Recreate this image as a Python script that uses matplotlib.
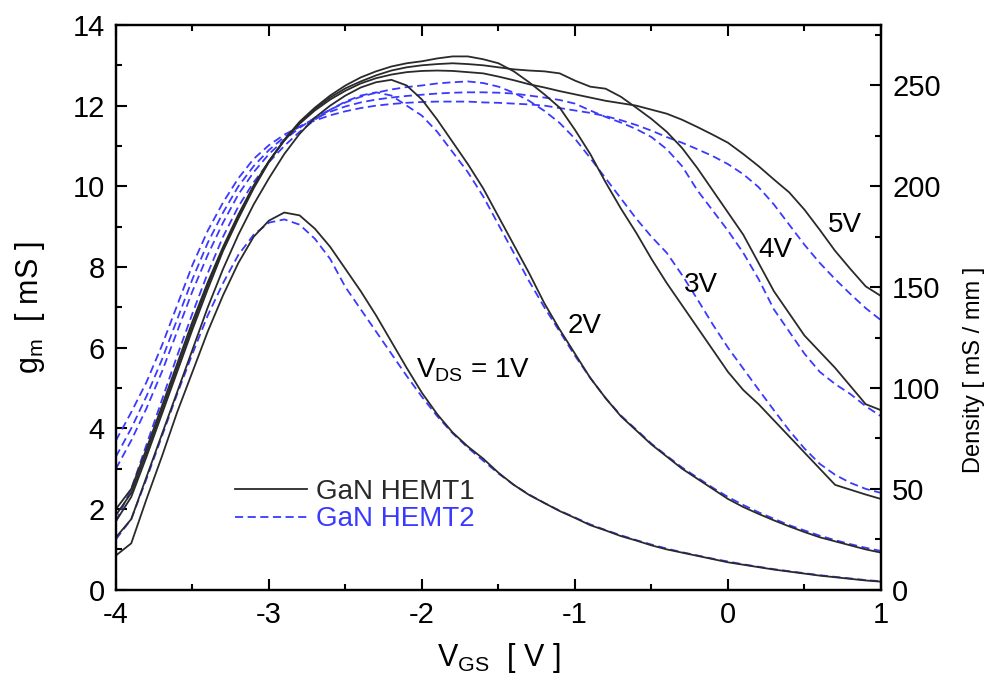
import numpy as np
import matplotlib
matplotlib.use("Agg")
import matplotlib.pyplot as plt
from matplotlib.lines import Line2D

plt.rcParams['font.family'] = ['Liberation Sans', 'DejaVu Sans']
plt.rcParams['mathtext.fontset'] = 'custom'
plt.rcParams['mathtext.rm'] = 'Liberation Sans'
plt.rcParams['mathtext.it'] = 'Liberation Sans:italic'

# gate voltage grid (V), -4 .. 1 in 0.1 V steps
vgs = np.round(np.arange(-4.0, 1.0001, 0.1), 2)

# GaN HEMT1 (solid) transconductance in mS for V_DS = 1..5 V
h1_1v = [0.85, 1.15, 2.25, 3.3, 4.4, 5.4, 6.4, 7.3, 8.1, 8.75, 9.15, 9.35, 9.28, 8.95, 8.5, 7.95, 7.4,
         6.8, 6.15, 5.5, 4.88, 4.35, 3.9, 3.55, 3.25, 2.9, 2.6, 2.35, 2.15, 1.95, 1.78, 1.6, 1.47, 1.33,
         1.22, 1.1, 1.0, 0.92, 0.84, 0.76, 0.68, 0.62, 0.56, 0.5, 0.45, 0.4, 0.35, 0.31, 0.27, 0.23, 0.2]
h1_2v = [1.3, 1.75, 2.8, 3.85, 4.9, 5.95, 7.0, 7.95, 8.8, 9.55, 10.2, 10.8, 11.3, 11.7, 12.0, 12.25,
         12.45, 12.58, 12.64, 12.5, 12.15, 11.65, 11.1, 10.55, 9.95, 9.25, 8.55, 7.85, 7.1, 6.45, 5.85,
         5.25, 4.75, 4.3, 3.95, 3.6, 3.3, 3.0, 2.75, 2.5, 2.25, 2.05, 1.88, 1.72, 1.57, 1.43, 1.3, 1.2,
         1.1, 1.0, 0.92]
h1_3v = [1.7, 2.3, 3.3, 4.35, 5.4, 6.45, 7.45, 8.4, 9.2, 9.95, 10.6, 11.15, 11.6, 11.95, 12.25, 12.5,
         12.7, 12.85, 12.97, 13.05, 13.1, 13.17, 13.22, 13.22, 13.15, 13.05, 12.85, 12.58, 12.28, 11.95,
         11.4, 10.8, 10.1, 9.45, 8.85, 8.2, 7.6, 7.05, 6.5, 5.95, 5.4, 4.95, 4.6, 4.2, 3.8, 3.4, 3.0,
         2.6, 2.48, 2.36, 2.25]
h1_4v = [1.85, 2.4, 3.4, 4.45, 5.5, 6.55, 7.55, 8.45, 9.25, 10.0, 10.62, 11.15, 11.58, 11.92, 12.2,
         12.43, 12.6, 12.75, 12.87, 12.95, 13.0, 13.03, 13.05, 13.03, 13.0, 12.95, 12.9, 12.87, 12.85,
         12.8, 12.62, 12.47, 12.42, 12.22, 11.95, 11.67, 11.35, 10.95, 10.45, 9.9, 9.35, 8.8, 8.1, 7.4,
         6.85, 6.3, 5.9, 5.5, 5.05, 4.6, 4.45]
h1_5v = [2.0, 2.5, 3.5, 4.55, 5.6, 6.65, 7.62, 8.5, 9.3, 10.02, 10.63, 11.13, 11.55, 11.88, 12.15,
         12.37, 12.55, 12.68, 12.77, 12.83, 12.86, 12.87, 12.86, 12.83, 12.8, 12.72, 12.63, 12.53, 12.45,
         12.36, 12.28, 12.2, 12.12, 12.06, 12.0, 11.9, 11.8, 11.65, 11.47, 11.28, 11.08, 10.8, 10.5,
         10.17, 9.85, 9.42, 8.92, 8.4, 7.95, 7.52, 7.28]

# GaN HEMT2 (dashed)
h2_1v = [1.25, 1.75, 2.75, 3.8, 4.85, 5.85, 6.8, 7.6, 8.3, 8.8, 9.1, 9.18, 9.05, 8.7, 8.2, 7.5, 6.95,
         6.4, 5.85, 5.3, 4.78, 4.3, 3.88, 3.52, 3.2, 2.88, 2.6, 2.36, 2.15, 1.96, 1.79, 1.62, 1.48, 1.35,
         1.23, 1.12, 1.02, 0.93, 0.85, 0.77, 0.7, 0.63, 0.57, 0.51, 0.46, 0.41, 0.36, 0.32, 0.28, 0.24, 0.21]
h2_2v = [1.7, 2.5, 3.6, 4.7, 5.8, 6.85, 7.85, 8.75, 9.5, 10.1, 10.6, 11.0, 11.35, 11.65, 11.9, 12.1,
         12.25, 12.33, 12.25, 12.0, 11.75, 11.35, 10.85, 10.35, 9.75, 9.05, 8.35, 7.65, 7.0, 6.4, 5.8,
         5.25, 4.75, 4.32, 3.97, 3.62, 3.32, 3.03, 2.78, 2.53, 2.3, 2.1, 1.92, 1.76, 1.6, 1.47, 1.34,
         1.23, 1.13, 1.04, 0.96]
h2_3v = [3.0, 3.7, 4.5, 5.4, 6.4, 7.4, 8.3, 9.1, 9.8, 10.35, 10.8, 11.15, 11.45, 11.7, 11.9, 12.08,
         12.22, 12.32, 12.4, 12.46, 12.5, 12.55, 12.58, 12.6, 12.56, 12.47, 12.32, 12.12, 11.87, 11.57,
         11.18, 10.7, 10.2, 9.7, 9.2, 8.75, 8.35, 7.8, 7.2, 6.58, 6.0, 5.48, 4.96, 4.45, 3.95, 3.5, 3.12,
         2.85, 2.65, 2.5, 2.4]
h2_4v = [3.3, 4.0, 4.8, 5.7, 6.7, 7.7, 8.6, 9.35, 10.0, 10.5, 10.9, 11.22, 11.48, 11.68, 11.85, 11.98,
         12.08, 12.15, 12.2, 12.24, 12.27, 12.3, 12.32, 12.33, 12.33, 12.32, 12.3, 12.25, 12.2, 12.14,
         12.05, 11.88, 11.72, 11.58, 11.42, 11.22, 10.92, 10.5, 9.9, 9.4, 8.9, 8.35, 7.7, 6.95, 6.4,
         5.85, 5.4, 5.1, 4.85, 4.55, 4.3]
h2_5v = [3.7, 4.4, 5.15, 6.05, 7.05, 8.05, 8.9, 9.6, 10.2, 10.68, 11.02, 11.28, 11.48, 11.63, 11.76,
         11.86, 11.94, 12.0, 12.04, 12.07, 12.09, 12.1, 12.1, 12.1, 12.08, 12.07, 12.05, 12.03, 12.0,
         11.94, 11.88, 11.82, 11.74, 11.64, 11.52, 11.38, 11.22, 11.08, 10.92, 10.75, 10.55, 10.3, 9.98,
         9.55, 9.05, 8.55, 8.1, 7.7, 7.33, 6.98, 6.68]

hemt1 = [h1_1v, h1_2v, h1_3v, h1_4v, h1_5v]
hemt2 = [h2_1v, h2_2v, h2_3v, h2_4v, h2_5v]

# curve labels: text, x, y (baseline)
vds_labels = [("V$_{\\mathregular{DS}}$ = 1V", -2.04, 5.25), ("2V", -1.05, 6.37),
              ("3V", -0.29, 7.38), ("4V", 0.2, 8.25), ("5V", 0.65, 8.87)]

blue = "#3a3aff"
black = "#2a2a2a"
fontsize = 21

fig = plt.figure(figsize=(9.91, 6.93), dpi=100)
ax = fig.add_axes([0.117, 0.149, 0.772, 0.815])

for g in hemt2:
    ax.plot(vgs, g, color=blue, lw=1.3, dashes=(4.5, 2.5))
for g in hemt1:
    ax.plot(vgs, g, color=black, lw=1.3)

for txt, x, y in vds_labels:
    ax.text(x, y, txt, fontsize=20, va="baseline", ha="left")

ax.set_xlim(-4, 1)
ax.set_ylim(0, 14)
ax.set_xticks(np.arange(-4, 1.01, 1))
ax.set_xticks(np.arange(-4, 1.01, 0.5), minor=True)
ax.set_yticks(np.arange(0, 14.01, 2))
ax.set_yticks(np.arange(0, 14.01, 1), minor=True)
ax.set_xticklabels(["-4", "-3", "-2", "-1", "0", "1"])
ax.tick_params(which="both", direction="in", top=True, right=False, width=1.5,
               labelsize=fontsize, pad=8)
ax.tick_params(which="major", length=8)
ax.tick_params(which="minor", length=4.5)
for s in ax.spines.values():
    s.set_linewidth(1.6)

ax.set_xlabel("V$_{\\mathregular{GS}}$  [ V ]", fontsize=22, labelpad=9)
ax.set_ylabel("g$_{\\mathregular{m}}$  [ mS ]", fontsize=22, labelpad=18)

# right axis: density = gm / 0.05 mm
ax2 = ax.twinx()
ax2.set_ylim(0, 280)
ax2.set_yticks(np.arange(0, 251, 50))
ax2.set_yticks(np.arange(0, 276, 25), minor=True)
ax2.tick_params(which="both", direction="in", width=1.5, labelsize=fontsize, pad=8)
ax2.tick_params(which="major", length=8)
ax2.tick_params(which="minor", length=4.5)
ax2.set_ylabel("Density [ mS / mm ]", fontsize=17)
ax2.yaxis.set_label_coords(1.107, 0.39)
for s in ax2.spines.values():
    s.set_linewidth(1.6)

handles = [Line2D([], [], color=black, lw=1.3),
           Line2D([], [], color=blue, lw=1.3, dashes=(4.5, 2.5))]
ax.legend(handles, ["GaN HEMT1", "GaN HEMT2"], loc="center left",
          bbox_to_anchor=(0.155, 0.149), frameon=False, fontsize=20,
          handlelength=2.6, handletextpad=0.35, labelspacing=0.05,
          borderpad=0, borderaxespad=0, labelcolor=[black, blue])

fig.savefig("out.png", dpi=100)
